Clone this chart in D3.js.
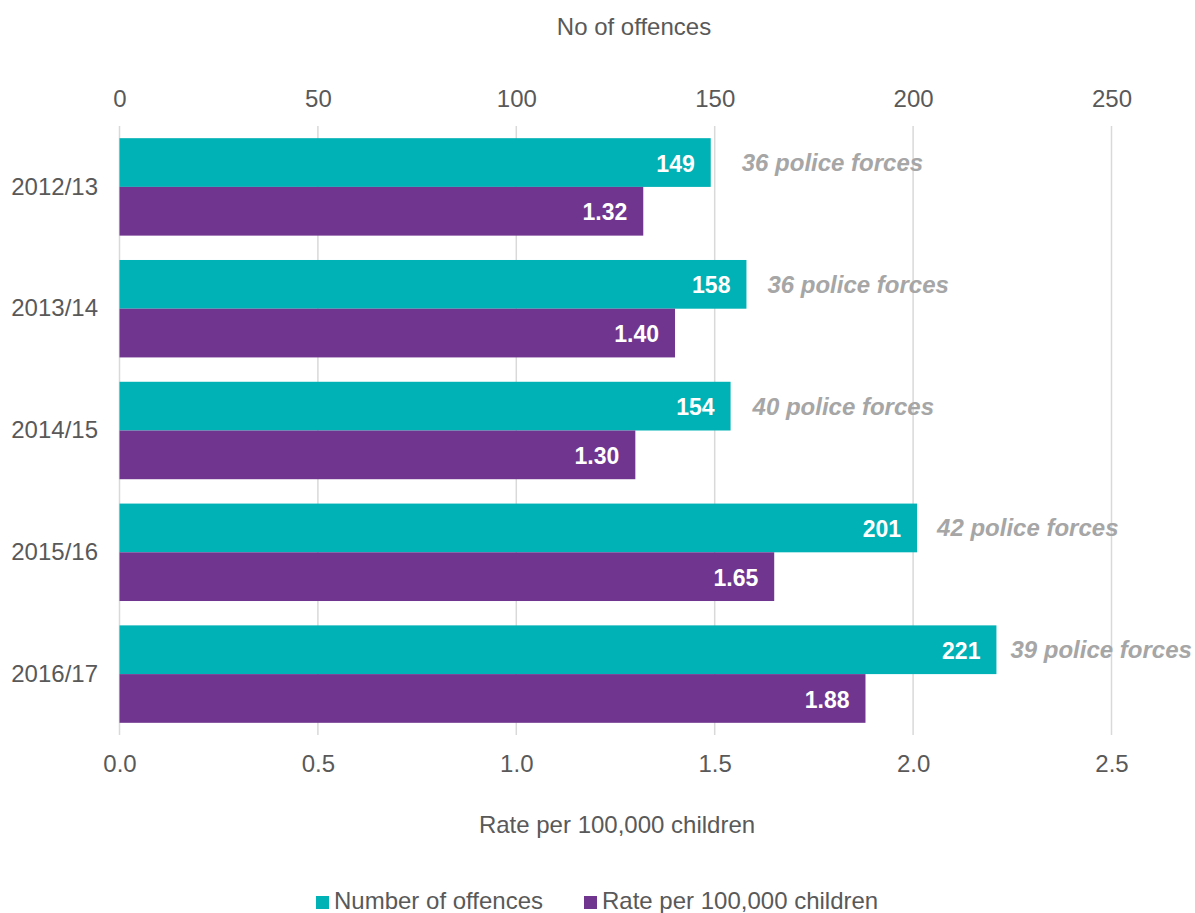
<!DOCTYPE html>
<html>
<head>
<meta charset="utf-8">
<script src="https://cdn.jsdelivr.net/npm/d3@7"></script>
<style>
  body { margin: 0; background: #fff; }
  text { font-family: "Liberation Sans", Arial, sans-serif; }
  .axis text { fill: #595959; font-size: 24px; }
  .axis .domain { display: none; }
</style>
</head>
<body>
<div id="chart"></div>
<script>
var years = ["2012/13", "2013/14", "2014/15", "2015/16", "2016/17"];
var offences = [149, 158, 154, 201, 221];
var rates = [1.32, 1.40, 1.30, 1.65, 1.88];
var forces = ["36 police forces", "36 police forces", "40 police forces", "42 police forces", "39 police forces"];
var topTicks = [0, 50, 100, 150, 200, 250];
var bottomTicks = [0, 0.5, 1.0, 1.5, 2.0, 2.5];
var seriesNames = ["Number of offences", "Rate per 100,000 children"];
var colors = ["#00b1b5", "#70368f"];

var width = 1195, height = 913;
var plotLeft = 119.5, plotRight = 1111.5, plotTop = 126, plotBottom = 735;
// gap between the end of the teal bar and its note, as placed by hand in the original
var noteGap = [31, 21, 22, 20, 14];

var svg = d3.select("#chart").append("svg")
    .attr("width", width)
    .attr("height", height);

var xTop = d3.scaleLinear().domain([0, 250]).range([plotLeft, plotRight]);
var xBot = d3.scaleLinear().domain([0, 2.5]).range([plotLeft, plotRight]);
var y = d3.scaleBand().domain(years).range([plotTop, plotBottom])
    .paddingInner(0.2).paddingOuter(0.1);
var half = y.bandwidth() / 2;

// gridlines
svg.append("g").selectAll("line")
    .data(topTicks)
    .enter().append("line")
    .attr("x1", function(d) { return xTop(d); })
    .attr("x2", function(d) { return xTop(d); })
    .attr("y1", plotTop)
    .attr("y2", plotBottom)
    .attr("stroke", "#d9d9d9")
    .attr("stroke-width", 1.5);

// teal bars
svg.append("g").selectAll("rect")
    .data(years)
    .enter().append("rect")
    .attr("x", xTop(0))
    .attr("y", function(d) { return y(d); })
    .attr("width", function(d, i) { return xTop(offences[i]) - xTop(0); })
    .attr("height", half)
    .attr("fill", colors[0]);

// purple bars
svg.append("g").selectAll("rect")
    .data(years)
    .enter().append("rect")
    .attr("x", xBot(0))
    .attr("y", function(d) { return y(d) + half; })
    .attr("width", function(d, i) { return xBot(rates[i]) - xBot(0); })
    .attr("height", half)
    .attr("fill", colors[1]);

// value labels
svg.append("g").selectAll("text")
    .data(years)
    .enter().append("text")
    .attr("x", function(d, i) { return xTop(offences[i]) - 16; })
    .attr("y", function(d) { return y(d) + half / 2 + 1; })
    .attr("dy", "0.35em")
    .attr("text-anchor", "end")
    .attr("fill", "#fff")
    .style("font-size", "23px")
    .style("font-weight", "bold")
    .text(function(d, i) { return offences[i]; });

svg.append("g").selectAll("text")
    .data(years)
    .enter().append("text")
    .attr("x", function(d, i) { return xBot(rates[i]) - 16; })
    .attr("y", function(d) { return y(d) + half * 1.5 + 1; })
    .attr("dy", "0.35em")
    .attr("text-anchor", "end")
    .attr("fill", "#fff")
    .style("font-size", "23px")
    .style("font-weight", "bold")
    .text(function(d, i) { return rates[i].toFixed(2); });

// police forces labels
svg.append("g").selectAll("text")
    .data(years)
    .enter().append("text")
    .attr("x", function(d, i) { return xTop(offences[i]) + noteGap[i]; })
    .attr("y", function(d) { return y(d) + half / 2; })
    .attr("dy", "0.35em")
    .attr("fill", "#a6a6a6")
    .style("font-size", "24px")
    .style("font-weight", "bold")
    .style("font-style", "italic")
    .text(function(d, i) { return forces[i]; });

// axes
svg.append("g")
    .attr("class", "axis")
    .attr("transform", "translate(0," + 107 + ")")
    .call(d3.axisTop(xTop).tickValues(topTicks).tickSize(0).tickPadding(0));

svg.append("g")
    .attr("class", "axis")
    .attr("transform", "translate(0," + 755 + ")")
    .call(d3.axisBottom(xBot).tickValues(bottomTicks).tickSize(0).tickPadding(0)
      .tickFormat(d3.format(".1f")));

svg.append("g")
    .attr("class", "axis")
    .attr("transform", "translate(" + 98 + ",0)")
    .call(d3.axisLeft(y).tickSize(0).tickPadding(0));

// axis titles
svg.append("text")
    .attr("x", 634)
    .attr("y", 35)
    .attr("text-anchor", "middle")
    .attr("fill", "#595959")
    .style("font-size", "24px")
    .text("No of offences");

svg.append("text")
    .attr("x", 617)
    .attr("y", 833)
    .attr("text-anchor", "middle")
    .attr("fill", "#595959")
    .style("font-size", "24px")
    .text("Rate per 100,000 children");

// legend
var legendX = [316, 584];
var legend = svg.append("g").selectAll("g")
    .data(seriesNames)
    .enter().append("g")
    .attr("transform", function(d, i) { return "translate(" + legendX[i] + ",896)"; });

legend.append("rect")
    .attr("width", 13)
    .attr("height", 13)
    .attr("fill", function(d, i) { return colors[i]; });

legend.append("text")
    .attr("x", 18)
    .attr("y", 13)
    .attr("fill", "#595959")
    .style("font-size", "24px")
    .text(function(d) { return d; });
</script>
</body>
</html>
